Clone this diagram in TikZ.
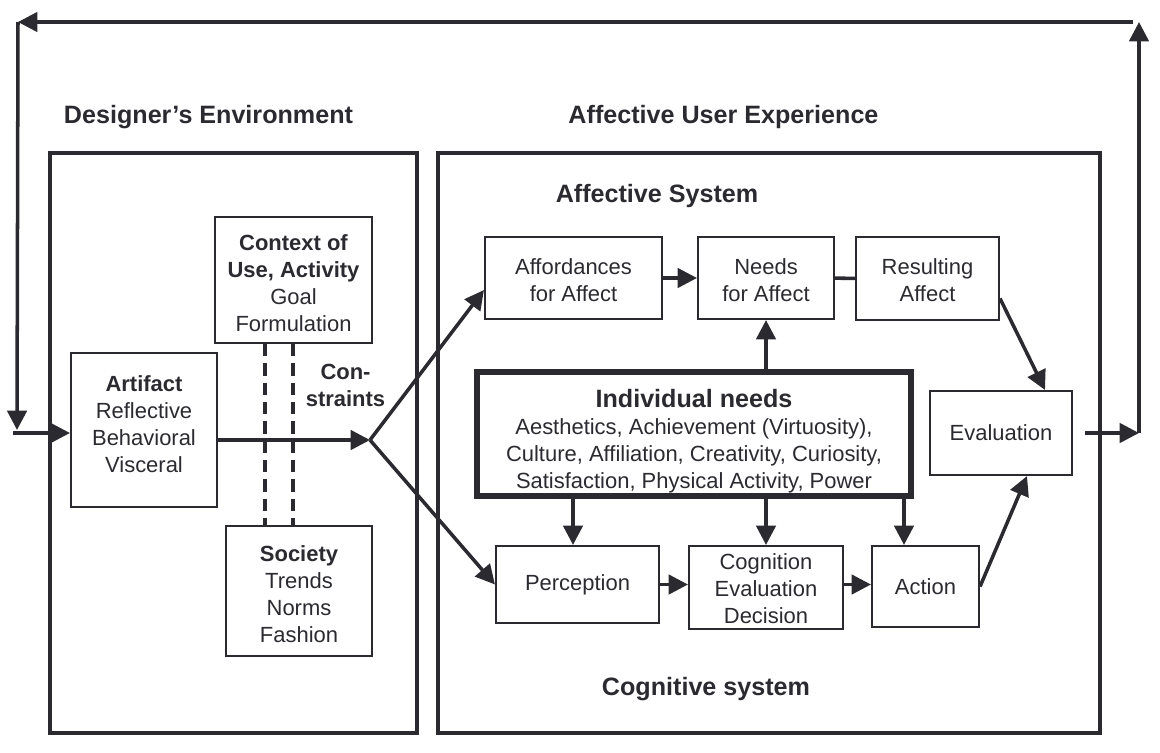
\documentclass[tikz,border=0pt]{standalone}
\usepackage{fontspec}
\setmainfont{Liberation Sans}
\usetikzlibrary{arrows.meta,calc}
\definecolor{ln}{RGB}{42,42,48}
\begin{document}
\begin{tikzpicture}[x=0.02cm,y=-0.02cm,
  bx/.style={draw=ln, line width=1.2pt, align=center, inner sep=0pt, text=ln,
     font=\fontsize{12.5}{15.4}\selectfont},
  txt/.style={align=center, inner sep=0pt, text=ln, font=\fontsize{12.5}{15.4}\selectfont},
  frame/.style={draw=ln, line width=2.2pt},
  arr/.style={draw=ln, line width=2pt, -{Triangle[length=11pt,width=11pt]}},
  plain/.style={draw=ln, line width=2pt},
  dashl/.style={draw=ln, line width=2pt, dash pattern=on 7pt off 4pt},
  ttl/.style={text=ln, font=\fontsize{14.3}{17}\selectfont\bfseries, inner sep=0pt},
  lbl/.style={text=ln, font=\fontsize{12.5}{15.4}\selectfont\bfseries, inner sep=0pt, align=center}]
\useasboundingbox (0,0) rectangle (1160,752);

% frames
\draw[frame] (50,153) rectangle (417,733);
\draw[frame] (438,153) rectangle (1100,733);

% titles
\node[ttl] (t1) at (208.5,117) {Designer’s Environment};
\node[ttl] (t2) at (723.5,117) {Affective User Experience};
\node[ttl] (t3) at (657,196) {Affective System};
\node[ttl] (t4) at (706,689) {Cognitive system};

% designer side
\node[bx, minimum width=3.14cm, minimum height=2.52cm] (ctx) at (293.5,280) {};
\node[txt] (ctxt) at (293.5,283.5)
  {\textbf{Context of}\\\textbf{Use, Activity}\\Goal\\Formulation};
\node[bx, minimum width=2.92cm, minimum height=3.08cm] (art) at (144,430) {};
\node[txt] (artt) at (144,424.5)
  {\textbf{Artifact}\\Reflective\\Behavioral\\Visceral};
\node[bx, minimum width=2.92cm, minimum height=2.6cm] (soc) at (299,591) {};
\node[txt] (soct) at (299,594.5)
  {\textbf{Society}\\Trends\\Norms\\Fashion};
\node[lbl] (con) at (345.5,385.5) {Con-\\straints};

% affective side
\node[bx, minimum width=3.54cm, minimum height=1.64cm] (aff) at (573.5,278) {};
\node[txt] (afft) at (573.5,280) {Affordances\\for Affect};
\node[bx, minimum width=2.72cm, minimum height=1.64cm] (need) at (766,278) {};
\node[txt] (needt) at (766,280) {Needs\\for Affect};
\node[bx, minimum width=2.86cm, minimum height=1.66cm] (res) at (927.5,278.5) {};
\node[txt] (rest) at (927.5,280.5) {Resulting\\Affect};
\node[bx, line width=3.6pt, minimum width=8.68cm, minimum height=2.48cm] (ind) at (694,434) {};
\node[txt] (indt) at (694,441)
  {{\fontsize{14.3}{17}\selectfont\bfseries Individual needs}\\
   Aesthetics, Achievement (Virtuosity),\\
   Culture, Affiliation, Creativity, Curiosity,\\
   Satisfaction, Physical Activity, Power};
\node[bx, minimum width=2.84cm, minimum height=1.68cm] (eval) at (1001,433) {Evaluation};
\node[bx, minimum width=3.26cm, minimum height=1.54cm] (perc) at (577.5,584.5) {Perception};
\node[bx, minimum width=3.08cm, minimum height=1.66cm] (cog) at (766,587.5) {};
\node[txt] (cogt) at (766,589) {Cognition\\Evaluation\\Decision};
\node[bx, minimum width=2.14cm, minimum height=1.62cm] (act) at (925.5,586.5) {Action};

% coordinates
\coordinate (j) at (370,440);
\coordinate (ev) at (1139,433);
\coordinate (tr) at (1139,22);
\coordinate (tl) at (18,22);
\coordinate (bl) at (17,430);
\coordinate (in) at (13,433);

% dashed links
\draw[dashl] (ctx.south -| 265,0) -- (soc.north -| 265,0);
\draw[dashl] (ctx.south -| 293,0) -- (soc.north -| 293,0);

% arrows designer side
\draw[arr] (art.east |- j) -- (j);
\draw[arr] (j) -- ($(aff.west)+(0,12)$);
\draw[arr] (j) -- (perc.west);

% affective system
\draw[arr] (aff) -- (need);
\draw[plain] (need) -- (res);
\draw[arr] (ind.north -| need) -- (need.south);
\draw[arr] ($(res.east)+(0,20)$) -- (eval.north -| 1045,0);

% cognitive system
\draw[arr] (ind.south -| 573,0) -- (perc.north -| 573,0);
\draw[arr] (ind.south -| cog) -- (cog.north);
\draw[arr] (ind.south -| 904,0) -- (act.north -| 904,0);
\draw[arr] (perc) -- (perc -| cog.west);
\draw[arr] (cog.east |- perc) -- (act.west |- perc);
\draw[arr] (act.east) -- (eval.south -| 1027,0);

% feedback loop
\draw[arr, shorten <=7pt] (eval.east) -- (ev);
\draw[arr] (ev) -- (tr);
\draw[arr] ($(tr)+(-6,0)$) -- (tl);
\draw[arr] (tl) -- (bl);
\draw[arr] (in) -- (in -| art.west);
\end{tikzpicture}
\end{document}
